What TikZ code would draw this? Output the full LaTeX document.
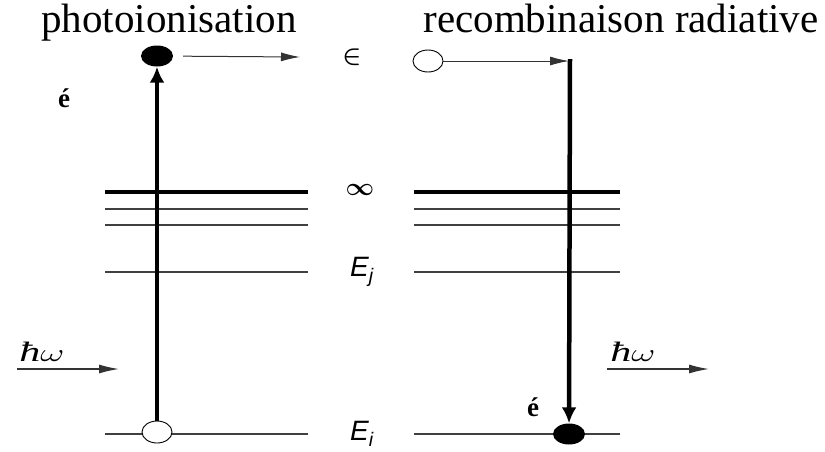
\documentclass[tikz,border=0pt]{standalone}
\usepackage{fontspec}
\setmainfont{Liberation Serif}
\newfontfamily\arialfont{Liberation Sans}
\usetikzlibrary{positioning, arrows.meta, shapes.geometric}
\tikzset{
	x=1pt, y=-1pt,
	lvl/.style={line width=1.4pt, black!75},
	lvlinf/.style={line width=4.5pt},
	jump/.style={-{Latex[length=16pt,width=15pt]}, line width=4.5pt},
	hop/.style={-{Latex[length=19pt,width=9pt]}, line width=1pt, black!80},
	photon/.style={-{Latex[length=20pt,width=9pt]}, line width=1.3pt, black!80},
	hole/.style={ellipse, draw, line width=0.9pt, minimum width=30pt, minimum height=22pt, inner sep=0pt, fill=white},
	elec/.style={ellipse, fill=black, minimum width=32pt, minimum height=21pt, inner sep=0pt},
	title/.style={font=\fontsize{41}{45}\selectfont, anchor=base, inner sep=0pt},
	elbl/.style={font=\fontsize{28}{30}\selectfont\arialfont\itshape},
	sym/.style={font=\fontsize{28}{30}\selectfont\boldmath},
	eacc/.style={font=\fontsize{27}{29}\selectfont\bfseries},
	hw/.style={font=\fontsize{28}{30}\selectfont}
}

\begin{document}
\begin{tikzpicture}
		\useasboundingbox (0,0) rectangle (825,451);
		
		%Titles
		\node[title] (tphoto) at (169,32) {photoionisation};
		\node[title] (treco) at (621,32) {recombinaison radiative};
		
		%Levels
		\foreach \xa/\xb in {105/308, 414/620}{
			\draw[lvlinf] (\xa,192) -- (\xb,192);
			\draw[lvl] (\xa,209) -- (\xb,209);
			\draw[lvl] (\xa,225) -- (\xb,225);
			\draw[lvl] (\xa,272) -- (\xb,272);
			\draw[lvl] (\xa,434) -- (\xb,434);
		}
		
		%Labels
		\node[sym] (eps) at (352,57) {$\in$};
		\node[sym] (inf) at (360,190) {$\infty$};
		\node[elbl] (ej) at (362,272) {E\textsubscript{j}};
		\node[elbl] (ei) at (362,434) {E\textsubscript{i}};
		
		%Left
		\node[hole] (h1) at (157,432) {};
		\node[elec] (e1) at (157,56) {};
		\coordinate (f1) at (300,57);
		\node[eacc] (acc1) at (64,98) {é};
		\node[hw] (hw1) at (42,352) {\scalebox{1.5}[1]{\textit{ħ}$\omega$}};
		\coordinate (p1a) at (17,369);
		\coordinate (p1b) at (119,369);
		
		%Right
		\node[hole] (h2) at (428,61) {};
		\coordinate (bend) at (570,61);
		\node[elec] (e2) at (569,434) {};
		\node[eacc] (acc2) at (533,407) {é};
		\node[hw] (hw2) at (633,352) {\scalebox{1.5}[1]{\textit{ħ}$\omega$}};
		\coordinate (p2a) at (607,369);
		\coordinate (p2b) at (709,369);
		
		\draw[jump] (h1) -- (e1);
		\draw[hop, shorten <=10pt] (e1) -- (f1);
		\draw[photon] (p1a) -- (p1b);
		
		\draw[hop] (h2) -- ([xshift=-1pt]bend);
		\draw[jump] ([yshift=2pt]bend) -- (e2);
		\draw[photon] (p2a) -- (p2b);
	\end{tikzpicture}
\end{document}
